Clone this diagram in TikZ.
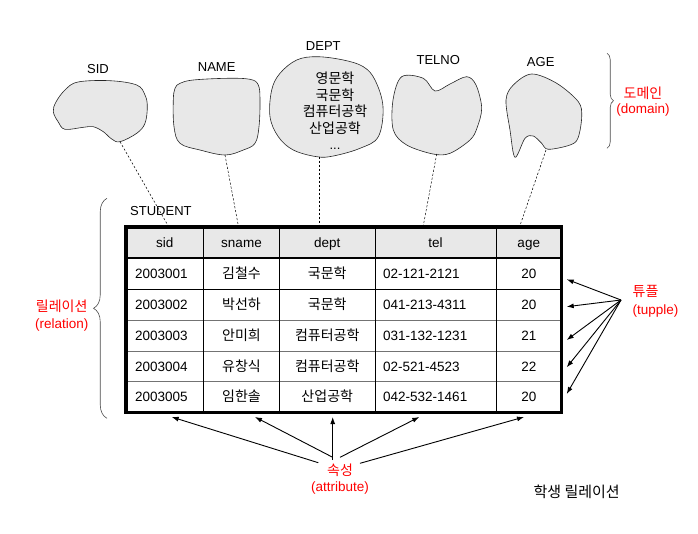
\documentclass[tikz,border=0pt]{standalone}
\usepackage{fontspec}
\setmainfont{Liberation Sans}
\newfontfamily\kr{Noto Sans CJK KR}
\usetikzlibrary{arrows.meta,decorations.pathreplacing}
\begin{document}
\begin{tikzpicture}[x=1pt,y=-1pt,
  blob/.style={draw=black!85,line width=0.6pt,fill=black!9},
  dom/.style={font=\fontsize{13}{15}\selectfont,inner sep=0pt},
  krs/.style={font=\kr\fontsize{14}{16}\selectfont,inner sep=0pt},
  cell/.style={font=\fontsize{13.5}{16}\selectfont,inner sep=0pt,anchor=base},
  kcell/.style={font=\kr\fontsize{14}{16}\selectfont,inner sep=0pt,anchor=base},
  redk/.style={font=\kr\fontsize{14}{16}\selectfont,text=red,inner sep=0pt},
  redl/.style={font=\fontsize{13.5}{16}\selectfont,text=red,inner sep=0pt},
  conn/.style={line width=0.5pt,dash pattern=on 2.2pt off 1.8pt},
  arr/.style={-{Latex[length=7pt,width=5pt]},line width=0.9pt},
  brc/.style={decorate,line width=0.6pt,draw=black!70}]
\useasboundingbox (0,0) rectangle (698,533);

% ---------- domains ----------
\node[dom] (lsid) at (98,69) {SID};
\node[dom] (lname) at (216.7,67.3) {NAME};
\node[dom] (ldept) at (323.3,46) {DEPT};
\node[dom] (ltel) at (438.3,60) {TELNO};
\node[dom] (lage) at (540.7,62.3) {AGE};

\draw[blob] plot[smooth cycle,tension=0.6] coordinates {
 (78,82) (110,80.7) (136.7,85) (145,95) (147.3,106.7) (145,123.3) (136.7,133.3)
 (120,141.7) (111.7,139) (103.3,131.7) (93.3,126.7) (83.3,127.3) (65,129.3)
 (58.3,122) (53.3,111.7) (56,102) (65,90)};
\draw[blob] plot[smooth cycle,tension=0.6] coordinates {
 (180,83.3) (193.3,80) (226.7,78.3) (250,79.3) (258.3,85) (260,100) (259,126.7)
 (255,143.3) (243.3,150) (225,155) (200,150) (180,143.3) (174,126.7) (173.3,100)
 (175,88.3)};
\draw[blob] plot[smooth cycle,tension=0.6] coordinates {
 (296.7,60) (316.7,56.7) (343.3,60) (363.3,66.7) (375,80) (383,106.7) (378.3,136.7)
 (360,148.3) (333.3,156) (316.7,156.7) (293.3,150) (278.3,136.7) (270,116.7)
 (271.7,90) (280,73.3)};
\draw[blob] plot[smooth cycle,tension=0.55] coordinates {
 (401.7,76.7) (423.3,78.3) (435,91) (450,84) (466.7,76.7) (476,85) (481.7,108)
 (477,128) (470,140) (450,153.3) (433,154) (406.7,145) (393.3,130) (393,100)};
\draw[blob] plot[smooth cycle,tension=0.55] coordinates {
 (531.7,74) (556.7,83.3) (578.3,101.7) (581.7,116.7) (578,138) (570,145) (548.3,149.3)
 (541.7,143.3) (533.3,136) (525,138.3) (515,157.3) (510,130) (506,100) (513.3,85)};

\node[krs] (d1) at (335,78.3) {영문학};
\node[krs] (d2) at (335,95) {국문학};
\node[krs] (d3) at (335,111.7) {컴퓨터공학};
\node[krs] (d4) at (335,128.3) {산업공학};
\node[dom,anchor=base] (d5) at (335,149) {...};

\draw[brc,decoration={brace,amplitude=6.5pt}] (607,53.3) -- (607,148.3);
\node[redk] (domk) at (643,93.3) {도메인};
\node[redl] (dome) at (643,110) {(domain)};

% ---------- table ----------
\node[dom,anchor=west] (stu) at (130,211.5) {STUDENT};
\fill[black!9] (126,227) rectangle (561.5,257.5);
\foreach \y in {289,320,351,381.5} \draw[black!55,line width=0.8pt] (126,\y) -- (561.5,\y);
\draw[black,line width=1pt] (126,289) -- (561.5,289);
\foreach \x in {203.5,279.5,375,496} \draw[black,line width=0.8pt] (\x,227) -- (\x,412.5);
\draw[line width=2pt] (126,257.5) -- (561.5,257.5);
\draw[line width=3.5pt] (126,227) rectangle (561.5,412.5);
\coordinate (tl) at (126,227);

\node[cell] (h1) at (164.75,247) {sid};
\node[cell] (h2) at (241.5,247) {sname};
\node[cell] (h3) at (327.25,247) {dept};
\node[cell] (h4) at (435.5,247) {tel};
\node[cell] (h5) at (528.75,247) {age};

\foreach \yy/\a/\b/\c/\d/\e in {
  278/2003001/김철수/국문학/02-121-2121/20,
  309.2/2003002/박선하/국문학/041-213-4311/20,
  340.2/2003003/안미희/컴퓨터공학/031-132-1231/21,
  371/2003004/유창식/컴퓨터공학/02-521-4523/22,
  401.7/2003005/임한솔/산업공학/042-532-1461/20}{
  \node[cell,anchor=base west] at (135,\yy) {\a};
  \node[kcell] at (241.5,\yy) {\b};
  \node[kcell] at (327.25,\yy) {\c};
  \node[cell,anchor=base west] at (383,\yy) {\d};
  \node[cell] at (528.75,\yy) {\e};
}

% ---------- dashed domain links ----------
\coordinate (sidB) at (120,141.7);  \coordinate (sidT) at (168,225.5);
\coordinate (namB) at (225,155);    \coordinate (namT) at (238.3,225.5);
\coordinate (depB) at (319.3,156.7); \coordinate (depT) at (319.3,225.5);
\coordinate (telB) at (436.7,154);  \coordinate (telT) at (423.3,225.5);
\coordinate (ageB) at (546,150);    \coordinate (ageT) at (520,225.5);
\draw[conn] (sidB) -- (sidT);
\draw[conn] (namB) -- (namT);
\draw[conn] (depB) -- (depT);
\draw[conn] (telB) -- (telT);
\draw[conn] (ageB) -- (ageT);

% ---------- relation brace ----------
\draw[brc,decoration={brace,amplitude=13.5pt}] (107,418.3) -- (107,198.3);
\node[redk] (relk) at (61.7,306.7) {릴레이션};
\node[redl] (rele) at (61.7,325) {(relation)};

% ---------- tuples ----------
\coordinate (tsrc) at (621,300);
\coordinate (t1) at (566.7,279.3);
\coordinate (t2) at (566.7,306.7);
\coordinate (t3) at (566.7,340);
\coordinate (t4) at (566.7,367.3);
\coordinate (t5) at (566.7,394);
\foreach \t in {t1,t2,t3,t4,t5} \draw[arr] (tsrc) -- (\t);
\node[redk,anchor=west] (tupk) at (632.5,291.7) {튜플};
\node[redl,anchor=west] (tupe) at (632.5,311) {(tupple)};

% ---------- attributes ----------
\coordinate (s1) at (318.3,462.7); \coordinate (a1) at (171.7,417);
\coordinate (s2) at (332.7,457.3); \coordinate (a2) at (255,417);
\coordinate (s3) at (332.7,460);   \coordinate (a3) at (332.7,417);
\coordinate (s4) at (340,457.3);   \coordinate (a4) at (419.3,417);
\coordinate (s5) at (360,463.3);   \coordinate (a5) at (524,417);
\foreach \i in {1,...,5} \draw[arr] (s\i) -- (a\i);
\node[redk] (attk) at (340,470.7) {속성};
\node[redl] (atte) at (340,488.3) {(attribute)};

\node[font=\kr\fontsize{15}{17}\selectfont,inner sep=0pt] (cap) at (576.7,491.7) {학생 릴레이션};
\end{tikzpicture}
\end{document}
